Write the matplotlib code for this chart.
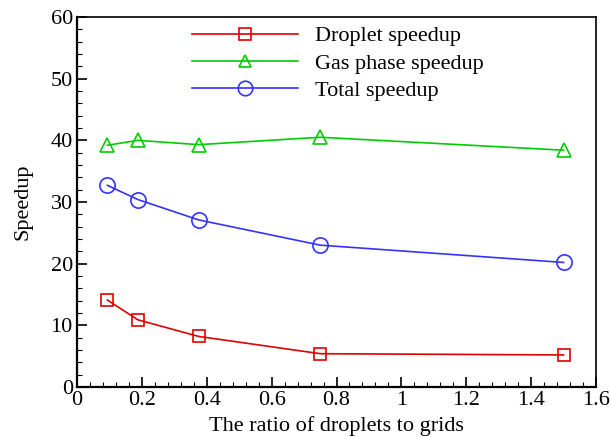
import matplotlib
matplotlib.use("Agg")
import matplotlib.pyplot as plt
from matplotlib.ticker import MultipleLocator

ratio = [0.09375, 0.1875, 0.375, 0.75, 1.5]
droplet = [14.1, 10.9, 8.2, 5.4, 5.2]
gas = [39.2, 40.0, 39.3, 40.5, 38.4]
total = [32.7, 30.4, 27.1, 23.0, 20.2]

plt.rcParams['font.family'] = ['Liberation Serif', 'DejaVu Serif']
plt.rcParams['mathtext.fontset'] = 'stix'

fs = 16
fig = plt.figure(figsize=(6.11, 4.37), dpi=100)
ax = fig.add_axes([77/611, 1 - 387/437, (596-77)/611, (387-17)/437])

ax.plot(ratio, droplet, color='#e00000', lw=1.2, marker='s', ms=8.5, mfc='none', mew=1.2, label='Droplet speedup')
ax.plot(ratio, gas, color='#00cc00', lw=1.2, marker='^', ms=9.5, mfc='none', mew=1.2, label='Gas phase speedup')
ax.plot(ratio, total, color='#3333ff', lw=1.2, marker='o', ms=11, mfc='none', mew=1.2, label='Total speedup')

ax.set_xlim(0, 1.6)
ax.set_ylim(0, 60)
ax.xaxis.set_minor_locator(MultipleLocator(0.04))
ax.yaxis.set_major_locator(MultipleLocator(10))
ax.yaxis.set_minor_locator(MultipleLocator(2))
ax.set_xticks([0, 0.2, 0.4, 0.6, 0.8, 1.0, 1.2, 1.4, 1.6])
ax.set_xticklabels(['0', '0.2', '0.4', '0.6', '0.8', '1', '1.2', '1.4', '1.6'])
ax.tick_params(which='both', direction='in', top=False, right=False, labelsize=fs, width=1.2, pad=3)
ax.tick_params(which='major', length=7)
ax.tick_params(which='minor', length=3.5, width=0.8)
for s in ['left', 'bottom']:
    ax.spines[s].set_linewidth(1.6)
for s in ['top', 'right']:
    ax.spines[s].set_linewidth(1.2)

ax.set_xlabel('The ratio of droplets to grids', fontsize=fs, labelpad=4)
ax.set_ylabel('Speedup', fontsize=fs, labelpad=13)

leg = ax.legend(loc='upper left', bbox_to_anchor=(0.183, 1.03), frameon=False, fontsize=fs,
                handlelength=4.75, handletextpad=0.8, labelspacing=0.3, markerscale=0.95)

fig.savefig('out.png', dpi=100)
